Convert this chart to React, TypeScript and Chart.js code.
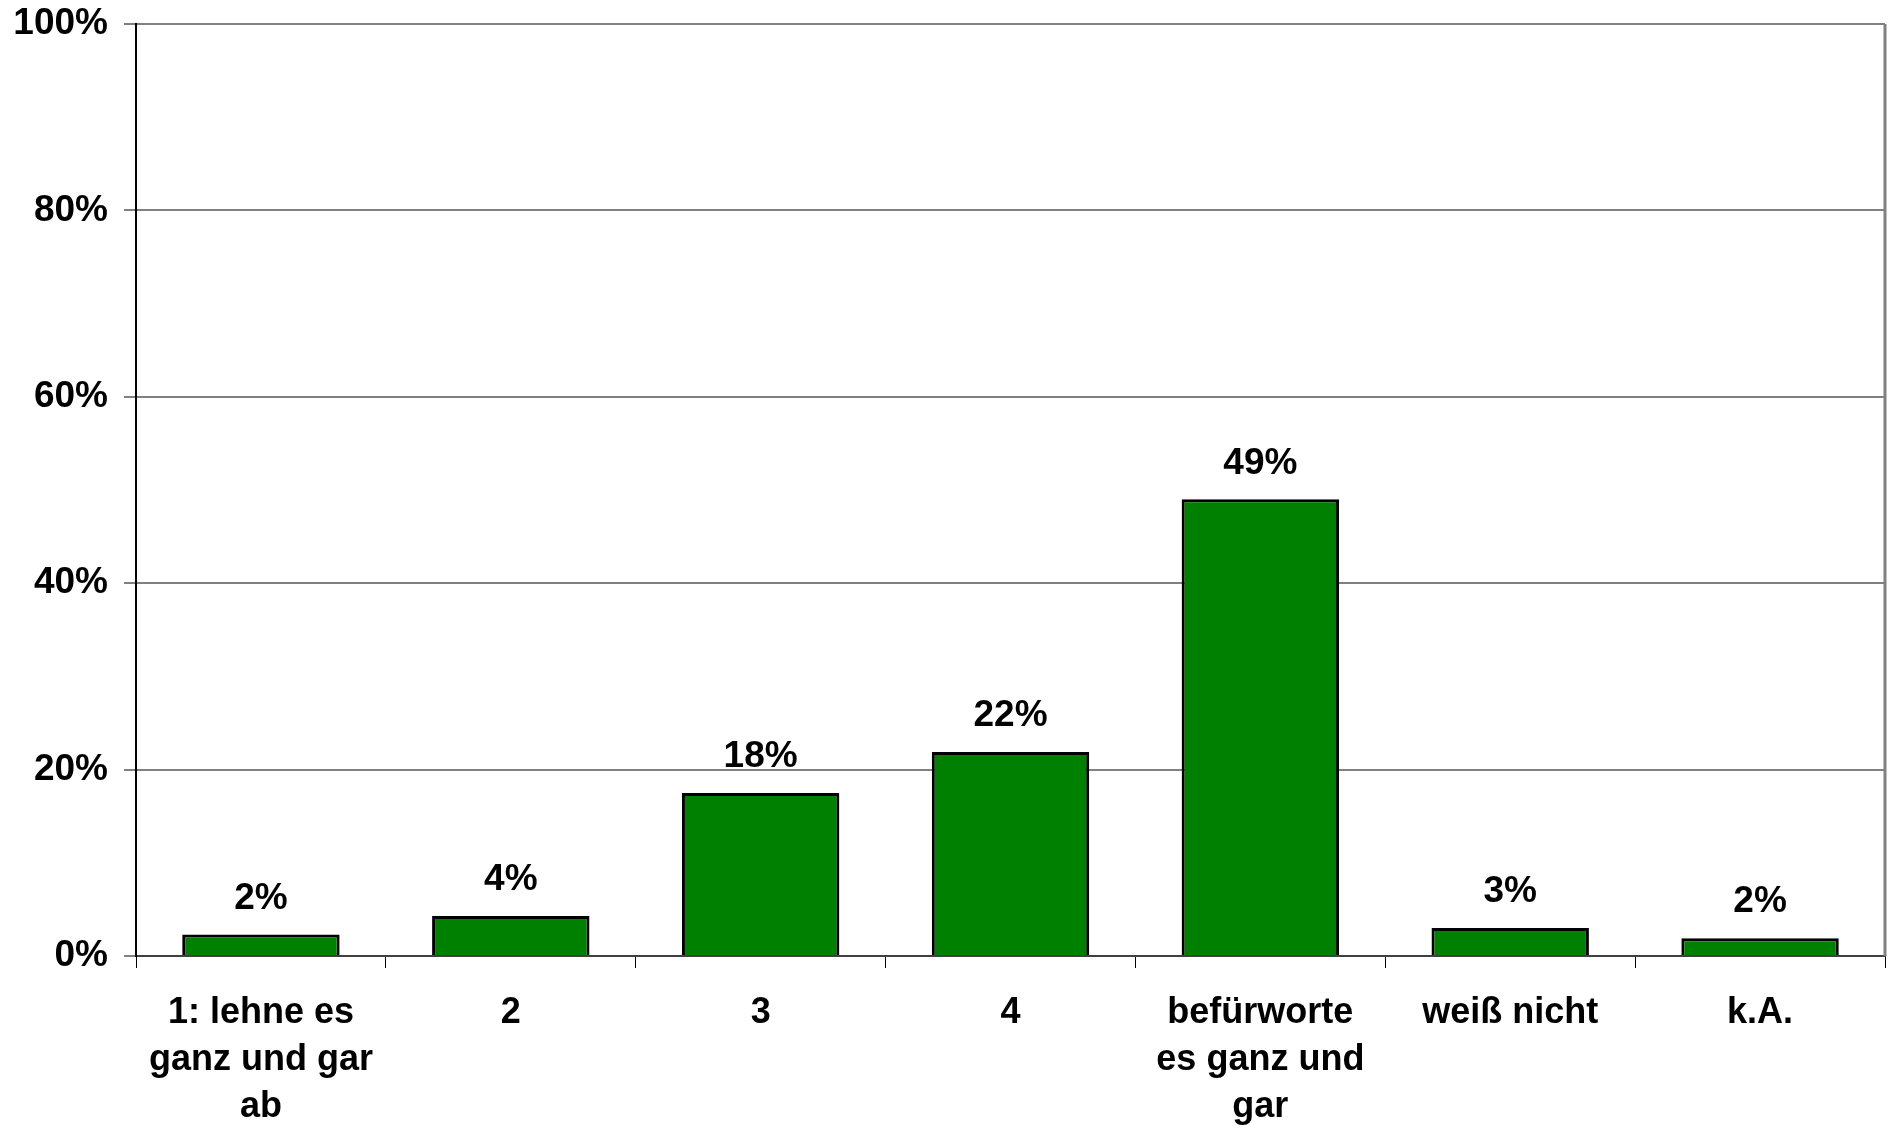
import React, { useEffect, useRef } from "react";
import { Chart, registerables } from "chart.js";

Chart.register(...registerables);

const categories: (string | string[])[] = [
  ["1: lehne es", "ganz und gar", "ab"],
  "2",
  "3",
  "4",
  ["befürworte", "es ganz und", "gar"],
  "weiß nicht",
  "k.A.",
];
const values: number[] = [2.3, 4.3, 17.5, 21.9, 49.0, 3.0, 1.9];
const valueLabels: string[] = ["2%", "4%", "18%", "22%", "49%", "3%", "2%"];
const yTicks: number[] = [0, 20, 40, 60, 80, 100];

const FONT = "'Liberation Sans', Arial, Helvetica, sans-serif";

export default function App() {
  const ref = useRef<HTMLCanvasElement | null>(null);

  useEffect(() => {
    if (!ref.current) return;
    const valueLabelPlugin = {
      id: "valueLabels",
      afterDatasetsDraw(chart: any) {
        const ctx = chart.ctx;
        const meta = chart.getDatasetMeta(0);
        ctx.save();
        ctx.font = `bold 37px ${FONT}`;
        ctx.fillStyle = "#000";
        ctx.textAlign = "center";
        ctx.textBaseline = "middle";
        meta.data.forEach((bar: any, i: number) => {
          ctx.fillText(valueLabels[i], bar.x, bar.y - 36);
        });
        ctx.restore();
      },
    };
    const borderPlugin = {
      id: "rightBorder",
      afterDraw(chart: any) {
        const { ctx, chartArea } = chart;
        ctx.save();
        ctx.strokeStyle = "#808080";
        ctx.lineWidth = 3;
        ctx.beginPath();
        ctx.moveTo(chartArea.right, chartArea.top);
        ctx.lineTo(chartArea.right, chartArea.bottom);
        ctx.stroke();
        ctx.restore();
      },
    };
    const chart = new Chart(ref.current, {
      type: "bar",
      data: {
        labels: categories,
        datasets: [
          {
            data: values,
            backgroundColor: "#008000",
            borderColor: "#000000",
            borderWidth: 3,
            barPercentage: 0.63,
            categoryPercentage: 1,
          },
        ],
      },
      options: {
        animation: false,
        responsive: false,
        maintainAspectRatio: false,
        layout: { padding: { top: 24, right: 7, left: 0, bottom: 0 } },
        plugins: {
          legend: { display: false },
          tooltip: { enabled: false },
        },
        scales: {
          x: {
            grid: {
              offset: true,
              drawOnChartArea: false,
              drawTicks: true,
              tickLength: 12,
              color: "#000000",
              lineWidth: 1,
            },
            border: { display: true, color: "#404040", width: 2 },
            ticks: {
              color: "#000",
              padding: 22,
              maxRotation: 0,
              autoSkip: false,
              font: { family: FONT, size: 36, weight: "bold", lineHeight: 1.3 },
            },
            afterFit(scale: any) {
              scale.height = 1126 - 956;
              scale.paddingLeft = 0;
              scale.paddingRight = 0;
            },
          },
          y: {
            min: 0,
            max: 100,
            afterBuildTicks(scale: any) {
              scale.ticks = yTicks.map((v) => ({ value: v }));
            },
            grid: {
              color: "#808080",
              lineWidth: 2,
              tickLength: 12,
              drawTicks: true,
            },
            border: { display: true, color: "#000000", width: 2 },
            ticks: {
              color: "#000",
              padding: 16,
              font: { family: FONT, size: 37, weight: "bold" },
              callback: (v: any) => `${v}%`,
            },
            afterFit(scale: any) {
              scale.width = 136;
              scale.paddingTop = 0;
              scale.paddingBottom = 0;
            },
          },
        },
      },
      plugins: [valueLabelPlugin, borderPlugin],
    });
    return () => chart.destroy();
  }, []);

  return (
    <div
      style={{
        position: "fixed",
        left: 0,
        top: 0,
        width: 1892,
        height: 1126,
        background: "#fff",
      }}
    >
      <canvas ref={ref} width={1892} height={1126} />
    </div>
  );
}
